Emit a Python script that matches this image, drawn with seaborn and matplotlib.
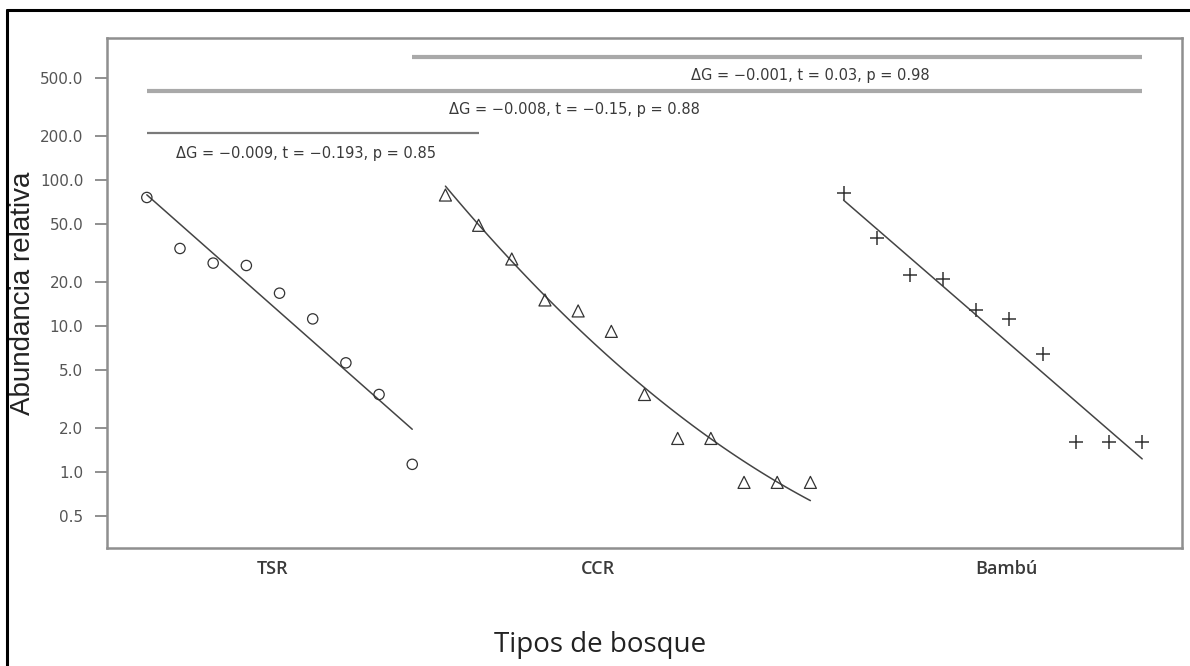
import numpy as np
import pandas as pd
import matplotlib
matplotlib.use("Agg")
import matplotlib.pyplot as plt
from matplotlib.lines import Line2D
import seaborn as sns

# Abundancia relativa por rango
tsr_abund = [76, 34, 27, 26, 16.8, 11.2, 5.6, 3.4, 1.13]
ccr_abund = [79, 49, 28.8, 15.1, 12.7, 9.2, 3.4, 1.7, 1.7, 0.85, 0.85, 0.85]
bambu_abund = [81.5, 40, 22.4, 21, 12.9, 11.2, 6.4, 1.6, 1.6, 1.6]

grupos = ["TSR", "CCR", "Bambú"]
marcadores = {"TSR": "o", "CCR": "^", "Bambú": "+"}
grado_ajuste = {"TSR": 1, "CCR": 2, "Bambú": 1}
pos_etiquetas = [4.8, 14.6, 26.9]

# Comparaciones entre pares (desde, hasta, altura de la barra, altura del texto, x del texto)
comp_textos = ["ΔG = −0.009, t = −0.193, p = 0.85",
               "ΔG = −0.008, t = −0.15, p = 0.88",
               "ΔG = −0.001, t = 0.03, p = 0.98"]
comp_x0 = [1, 1, 9]
comp_x1 = [11, 31, 31]
comp_y = [210, 410, 695]
comp_texto_y = [153, 302, 524]
comp_texto_x = [5.8, 13.9, 21.0]

# Armar el DataFrame con rango continuo
filas = []
rango = 1
for g, vals in zip(grupos, [tsr_abund, ccr_abund, bambu_abund]):
    for v in vals:
        filas.append({"rango": rango, "abund": v, "bosque": g})
        rango += 1
df = pd.DataFrame(filas)

sns.set_style("white")
plt.rcParams["font.family"] = ["DejaVu Sans"]

fig = plt.figure(figsize=(11.9, 6.66), dpi=100)
ax = fig.add_axes([107 / 1190, 118 / 666, 1075 / 1190, 510 / 666])

borde = "#333333"
tamanos = {"TSR": 55, "CCR": 75}
for g in grupos:
    d = df[df["bosque"] == g]
    if marcadores[g] == "+":
        sns.scatterplot(data=d, x="rango", y="abund", marker="+", color=borde,
                        s=110, linewidth=1.1, ax=ax, zorder=3)
    else:
        sns.scatterplot(data=d, x="rango", y="abund", marker=marcadores[g],
                        facecolors="none", edgecolor=borde, s=tamanos[g],
                        linewidth=0.9, ax=ax, zorder=3)
    # curva ajustada en escala log
    coef = np.polyfit(d["rango"], np.log10(d["abund"]), grado_ajuste[g])
    xs = np.linspace(d["rango"].min(), d["rango"].max(), 60)
    ajuste = pd.DataFrame({"rango": xs, "abund": 10 ** np.polyval(coef, xs)})
    sns.lineplot(data=ajuste, x="rango", y="abund", color="#444444",
                 linewidth=1.1, ax=ax, zorder=2)

# Barras de comparación
colores_barra = ["#7a7a7a", "#a9a9a9", "#a9a9a9"]
grosor_barra = [1.6, 3.0, 3.0]
for i in range(3):
    ax.plot([comp_x0[i], comp_x1[i]], [comp_y[i], comp_y[i]],
            color=colores_barra[i], linewidth=grosor_barra[i], solid_capstyle="butt")
    ax.text(comp_texto_x[i], comp_texto_y[i], comp_textos[i], ha="center",
            va="center", fontsize=10.5, color="#3a3a3a")

ax.set_yscale("log")
ax.set_xlim(-0.2, 32.2)
ax.set_ylim(0.302, 940)
yt = [0.5, 1, 2, 5, 10, 20, 50, 100, 200, 500]
ax.set_yticks(yt)
ax.set_yticklabels([f"{v:.1f}" for v in yt])
ax.yaxis.set_minor_locator(matplotlib.ticker.NullLocator())
ax.set_xticks(pos_etiquetas)
ax.set_xticklabels(grupos)

gris = "#8f8f8f"
for s in ax.spines.values():
    s.set_color(gris)
    s.set_linewidth(1.8)
ax.tick_params(axis="y", which="major", left=True, direction="out", length=8.5,
               width=1.4, color=gris, pad=8.5, labelsize=11, labelcolor="#555555")
ax.tick_params(axis="x", bottom=False, length=0, pad=9, labelsize=13,
               labelcolor="#3a3a3a")
for t in ax.get_xticklabels():
    t.set_family(["Open Sans", "DejaVu Sans"])
    t.set_fontweight("semibold")

ax.set_ylabel("Abundancia relativa", fontsize=20, family=["Liberation Sans", "DejaVu Sans"],
              color="#222222")
ax.yaxis.set_label_coords(-0.066, 0.5)
ax.set_xlabel("Tipos de bosque", fontsize=20, family=["Open Sans", "DejaVu Sans"],
              color="#222222")
ax.xaxis.set_label_coords(0.4586, -0.163)

# Marco negro del recorte (izquierda y arriba)
fig.add_artist(Line2D([7 / 1190, 7 / 1190], [0, 1 - 10 / 666], color="black",
                      linewidth=2.2, transform=fig.transFigure))
fig.add_artist(Line2D([7 / 1190, 1], [1 - 10 / 666, 1 - 10 / 666], color="black",
                      linewidth=2.2, transform=fig.transFigure))

fig.savefig("out.png", dpi=100)
